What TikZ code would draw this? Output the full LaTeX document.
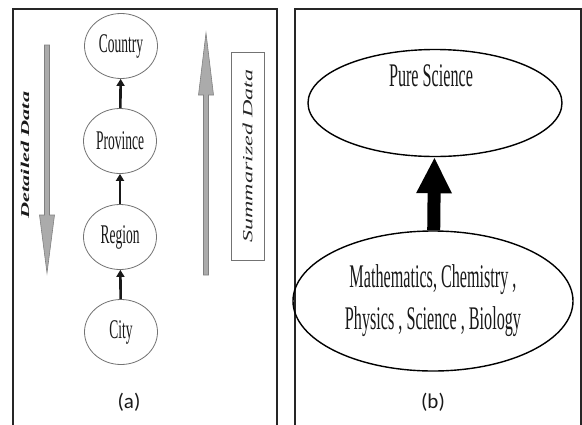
\documentclass[tikz,border=0pt]{standalone}
\usepackage{fontspec}
\usepackage{graphicx}
\setmainfont{Liberation Serif}
\newfontfamily\capfont{Carlito}
\usetikzlibrary{shapes.geometric,arrows.meta}

% condensed and stretched text helpers
\newcommand\squeezetxt[2]{\scalebox{#1}[1]{#2}}

\begin{document}
\begin{tikzpicture}[x=1pt,y=-1pt,
  panel/.style={line width=1.5pt,draw=black!85},
  level/.style={ellipse,draw=black!55,line width=0.8pt,minimum width=73pt,
    minimum height=65pt,inner sep=0pt,text=black!90,
    font=\fontsize{27}{27}\selectfont},
  bigell/.style={ellipse,draw=black,line width=1.4pt,inner sep=0pt},
  uplink/.style={line width=2.6pt,draw=black!90,-{Triangle[length=7pt,width=8pt]}},
  bigarrow/.style={line width=13pt,draw=black,-{Triangle[length=36pt,width=33pt]}},
  grayarrow/.style={fill=black!33,draw=black!50,line width=0.6pt},
  caption/.style={font=\capfont\fontsize{21}{21}\selectfont,text=black!90},
]
\useasboundingbox (0,0) rectangle (582,424);
\fill[white] (0,0) rectangle (582,424);

% panel frames (open at the bottom)
\draw[panel] (13,430) -- (13,9) -- (277,9) -- (277,430);
\draw[panel] (295,430) -- (295,9) -- (581,9) -- (581,430);

% ---------- panel (a): location hierarchy ----------
\node[level] (cou) at (121,46)  {\squeezetxt{0.5}{Country}};
\node[level] (pro) at (120,141) {\squeezetxt{0.5}{Province}};
\node[level] (reg) at (120,237) {\squeezetxt{0.5}{Region}};
\node[level] (cit) at (121,332) {\squeezetxt{0.5}{City}};

\draw[uplink] (cit) -- (reg);
\draw[uplink] (reg) -- (pro);
\draw[uplink] (pro) -- (cou);

% grey direction arrows
\coordinate (dtop) at (47,45);
\coordinate (dneck) at (47,215);
\coordinate (dtip) at (47,273);
\filldraw[grayarrow] ([xshift=-2.5pt]dtop) -- ([xshift=2.5pt]dtop)
  -- ([xshift=2.5pt]dneck) -- ([xshift=7.5pt]dneck) -- (dtip)
  -- ([xshift=-7.5pt]dneck) -- ([xshift=-2.5pt]dneck) -- cycle;

\coordinate (ubot) at (206,275);
\coordinate (uneck) at (206,95);
\coordinate (utip) at (206,33);
\filldraw[grayarrow] ([xshift=-2.5pt]ubot) -- ([xshift=2.5pt]ubot)
  -- ([xshift=2.5pt]uneck) -- ([xshift=7.5pt]uneck) -- (utip)
  -- ([xshift=-7.5pt]uneck) -- ([xshift=-2.5pt]uneck) -- cycle;

\node[rotate=90,font=\bfseries\itshape\fontsize{12}{12}\selectfont,text=black!90]
  (det) at (25,155) {\squeezetxt{1.85}{Detailed Data}};

\node[rotate=90,draw=black!55,line width=0.8pt,minimum width=208pt,
  minimum height=33pt,inner sep=0pt,
  font=\itshape\fontsize{14}{14}\selectfont,text=black!85]
  (sum) at (247.5,156) {\squeezetxt{1.72}{Summarized Data}};

\node[caption] (capa) at (129,402) {(a)};

% ---------- panel (b): subject hierarchy ----------
\node[bigell,minimum width=254pt,minimum height=107pt] (ps) at (435,103) {};
\node[font=\fontsize{33}{33}\selectfont,text=black!90] (pst) at (431,76)
  {\squeezetxt{0.49}{Pure Science}};

\node[bigell,minimum width=280pt,minimum height=140pt,
  font=\fontsize{33}{42}\selectfont,text=black!90,align=center] (sub) at (433,301)
  {\squeezetxt{0.49}{Mathematics, Chemistry ,}\\\squeezetxt{0.49}{Physics , Science , Biology}};

\draw[bigarrow] (sub) -- (ps);

\node[caption] (capb) at (433,402) {(b)};
\end{tikzpicture}
\end{document}
